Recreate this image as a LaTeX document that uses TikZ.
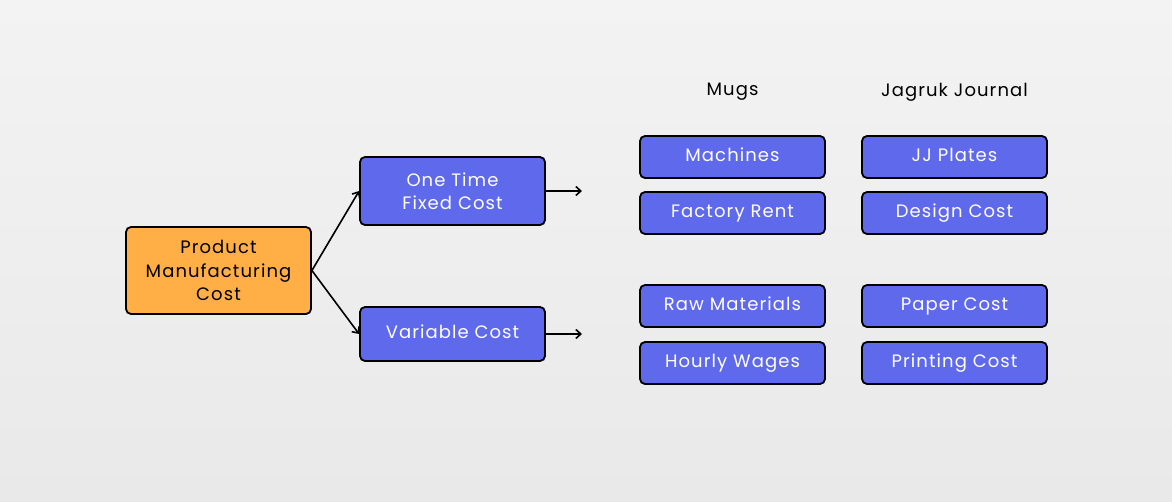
\documentclass[tikz,border=0pt]{standalone}
\usepackage{fontspec}
\setmainfont{Poppins}[LetterSpace=6]
\usepackage{xcolor}
\usetikzlibrary{arrows.meta,positioning}
\definecolor{costorange}{HTML}{FFAF45}
\definecolor{costblue}{HTML}{5F69EC}
\definecolor{bgtop}{HTML}{F3F3F3}
\definecolor{bgbottom}{HTML}{E9E9E9}

\begin{document}
\begin{tikzpicture}[x=1pt,y=-1pt,
    costbox/.style={draw=black,line width=1.8pt,rounded corners=5pt,
      minimum width=185pt,align=center,inner sep=2pt,
      font=\fontsize{18}{23.5}\selectfont},
    mainbox/.style={costbox,fill=costorange,text=black,minimum height=87pt},
    typebox/.style={costbox,fill=costblue,text=white},
    itembox/.style={costbox,fill=costblue,text=white,minimum height=42pt,
      text height=13pt,text depth=4pt},
    head/.style={font=\fontsize{18}{22}\selectfont,text=black},
    link/.style={line width=1.6pt,-{Straight Barb[length=5pt,width=9pt]}}]
    \shade[top color=bgtop,bottom color=bgbottom] (0,0) rectangle (1172,501);
    \useasboundingbox (0,0) rectangle (1172,501);
    % left side
    \node[mainbox] (pmc) at (218.5,270.5) {Product\\Manufacturing\\Cost};
    \node[typebox,minimum height=68pt] (fixed) at (452.5,191) {One Time\\Fixed Cost};
    \node[typebox,minimum height=54pt,text height=13pt,text depth=4pt] (var) at (452.5,334) {Variable Cost};
    \draw[link] (pmc.east) -- (fixed.west);
    \draw[link] (pmc.east) -- (var.west);
    \coordinate (fixedend) at (582,191);
    \coordinate (varend) at (582,334);
    \draw[link] (fixed.east) -- (fixedend);
    \draw[link] (var.east) -- (varend);
    % columns
    \node[head] (mugs) at (732.5,92) {Mugs};
    \node[head] (jj) at (954.5,92) {Jagruk Journal};
    \node[itembox] (mach) at (732.5,157) {Machines};
    \node[itembox] (rent) at (732.5,213) {Factory Rent};
    \node[itembox] (raw) at (732.5,306) {Raw Materials};
    \node[itembox] (wage) at (732.5,363) {Hourly Wages};
    \node[itembox] (plate) at (954.5,157) {JJ Plates};
    \node[itembox] (design) at (954.5,213) {Design Cost};
    \node[itembox] (paper) at (954.5,306) {Paper Cost};
    \node[itembox] (print) at (954.5,363) {Printing Cost};
\end{tikzpicture}
\end{document}
